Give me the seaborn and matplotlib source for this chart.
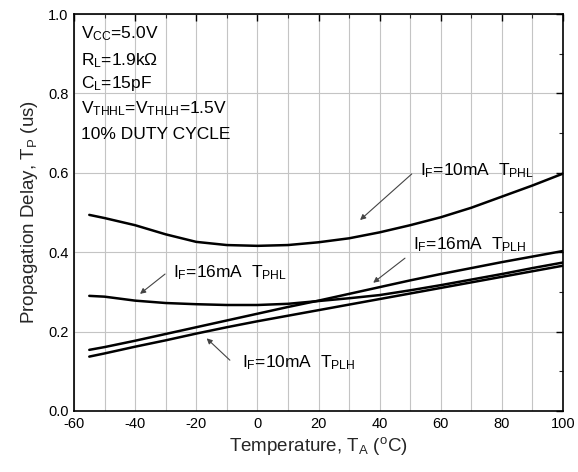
import matplotlib
matplotlib.use("Agg")
import matplotlib.pyplot as plt
import seaborn as sns
import pandas as pd
from matplotlib.ticker import MultipleLocator

# ---- data ----
temps = [-55, -50, -40, -30, -20, -10, 0, 10, 20, 30, 40, 50, 60, 70, 80, 90, 100]
tphl_10mA = [0.494, 0.486, 0.468, 0.445, 0.426, 0.418, 0.416, 0.418, 0.425, 0.435,
             0.450, 0.468, 0.488, 0.512, 0.540, 0.568, 0.598]
tphl_16mA = [0.290, 0.288, 0.278, 0.272, 0.269, 0.267, 0.267, 0.270, 0.277, 0.284,
             0.292, 0.304, 0.317, 0.331, 0.345, 0.360, 0.374]
tplh_16mA = [0.154, 0.161, 0.177, 0.194, 0.211, 0.228, 0.245, 0.262, 0.278, 0.295,
             0.312, 0.329, 0.345, 0.360, 0.375, 0.389, 0.403]
tplh_10mA = [0.137, 0.145, 0.162, 0.178, 0.195, 0.211, 0.226, 0.240, 0.254, 0.268,
             0.282, 0.296, 0.310, 0.324, 0.338, 0.352, 0.366]
series_names = ["IF=10mA TPHL", "IF=16mA TPHL", "IF=16mA TPLH", "IF=10mA TPLH"]

x_ticks = [-60, -40, -20, 0, 20, 40, 60, 80, 100]
y_ticks = [0.0, 0.2, 0.4, 0.6, 0.8, 1.0]

info_lines = [r"$\mathregular{V_{CC}}$=5.0V",
              r"$\mathregular{R_L}$=1.9kΩ",
              r"$\mathregular{C_L}$=15pF",
              r"$\mathregular{V_{THHL}}$=$\mathregular{V_{THLH}}$=1.5V",
              "10% DUTY CYCLE"]

labels = [r"$\mathregular{I_F}$=10mA  $\mathregular{T_{PHL}}$",
          r"$\mathregular{I_F}$=16mA  $\mathregular{T_{PLH}}$",
          r"$\mathregular{I_F}$=16mA  $\mathregular{T_{PHL}}$",
          r"$\mathregular{I_F}$=10mA  $\mathregular{T_{PLH}}$"]
label_pos = [(53.2, 0.594), (50.9, 0.408), (-27.6, 0.338), (-5.0, 0.111)]
arrow_from = [(50.5, 0.597), (48.3, 0.385), (-30.2, 0.345), (-9.0, 0.128)]
arrow_to = [(33.6, 0.481), (37.9, 0.323), (-38.4, 0.295), (-16.6, 0.183)]

# ---- build dataframe ----
rows = []
for name, vals in zip(series_names, [tphl_10mA, tphl_16mA, tplh_16mA, tplh_10mA]):
    for t, v in zip(temps, vals):
        rows.append({"T": t, "V": v, "series": name})
df = pd.DataFrame(rows)

sns.set_theme(style="white")
plt.rcParams["font.family"] = ["Liberation Sans", "DejaVu Sans"]
plt.rcParams["mathtext.default"] = "regular"

fig = plt.figure(figsize=(5.78, 4.72), dpi=100)
ax = fig.add_axes([74 / 578, 1 - 411 / 472, 489 / 578, 397 / 472])

sns.lineplot(data=df, x="T", y="V", hue="series", palette=["black"] * 4,
             legend=False, ax=ax, linewidth=1.8, sort=False)

ax.set_xlim(-60, 100)
ax.set_ylim(0.0, 1.0)
ax.set_xticks(x_ticks)
ax.set_xticklabels([f"{t}" for t in x_ticks])
ax.set_yticks(y_ticks)
ax.set_yticklabels([f"{v:.1f}" for v in y_ticks])
ax.xaxis.set_minor_locator(MultipleLocator(10))
ax.yaxis.set_minor_locator(MultipleLocator(0.1))

ax.grid(which="both", axis="x", color="#c4c4c4", linewidth=0.8)
ax.grid(which="major", axis="y", color="#c4c4c4", linewidth=0.8)
ax.set_axisbelow(True)

ax.tick_params(which="major", direction="in", length=5, width=1.0,
               top=True, right=True, labelsize=10.5, colors="black", pad=4)
ax.tick_params(which="minor", direction="in", length=3, width=0.8,
               top=True, right=True)
for s in ax.spines.values():
    s.set_color("black")
    s.set_linewidth(1.2)

ax.set_xlabel(r"Temperature, $\mathregular{T_A}$ ($\mathregular{^oC}$)", fontsize=13.5, labelpad=3)
ax.set_ylabel(r"Propagation Delay, $\mathregular{T_P}$ (us)", fontsize=13.5, labelpad=6)

info_y = [0.940, 0.872, 0.814, 0.751, 0.685]
for txt, yy in zip(info_lines, info_y):
    ax.text(0.014, yy, txt, transform=ax.transAxes, fontsize=12.5,
            va="baseline", ha="left", color="black")

for lab, pos, a0, a1 in zip(labels, label_pos, arrow_from, arrow_to):
    ax.text(pos[0], pos[1], lab, fontsize=12.5, va="baseline", ha="left",
            color="black", backgroundcolor="none")
    ax.annotate("", xy=a1, xytext=a0,
                arrowprops=dict(arrowstyle="-|>", color="#444444", lw=0.8,
                                mutation_scale=8, shrinkA=0, shrinkB=0))

fig.savefig("out.png", dpi=100, facecolor="white")
